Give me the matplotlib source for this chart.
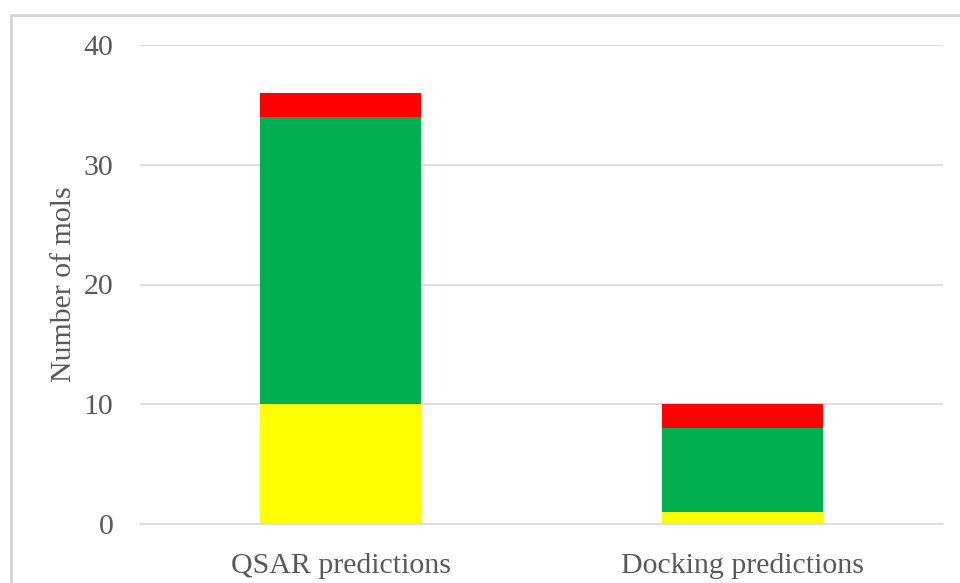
import numpy as np
import matplotlib.pyplot as plt
from matplotlib.patches import Rectangle

categories = ['QSAR predictions', 'Docking predictions']
yellow_vals = [10, 1]
green_vals = [24, 7]
red_vals = [2, 2]

text_col = '#595959'
plt.rcParams['font.family'] = ['Liberation Serif', 'DejaVu Serif']

fig = plt.figure(figsize=(9.6, 5.83), dpi=100)
ax = fig.add_axes([140/960, 1-524/583, (943-140)/960, (524-45)/583])

x = np.arange(len(categories))
w = 0.4
yel = np.array(yellow_vals)
grn = np.array(green_vals)
red = np.array(red_vals)
ax.bar(x, yel, w, color='#FFFF00', zorder=2)
ax.bar(x, grn, w, bottom=yel, color='#00B050', zorder=2)
ax.bar(x, red, w, bottom=yel+grn, color='#FF0000', zorder=2)

ax.set_xlim(-0.5, 1.5)
ax.set_ylim(0, 40)
ax.set_yticks([0, 10, 20, 30, 40])
ax.set_xticks(x)
ax.set_xticklabels(categories)
ax.yaxis.grid(True, color='#d9d9d9', linewidth=1.2, zorder=0)
ax.set_axisbelow(True)
for s in ['top', 'right', 'left']:
    ax.spines[s].set_visible(False)
ax.spines['bottom'].set_color('#d9d9d9')
ax.spines['bottom'].set_linewidth(1.2)
ax.tick_params(axis='both', length=0, labelsize=21.5, labelcolor=text_col)
ax.tick_params(axis='y', pad=19)
ax.tick_params(axis='x', pad=21)
ax.set_ylabel('Number of mols', fontsize=21.5, color=text_col, labelpad=5)

# outer frame, running off the right and bottom edges
fig.patches.append(Rectangle((11/960, -0.1), 1.2, 1-15/583+0.1,
                             transform=fig.transFigure, fill=False,
                             edgecolor='#d4d4d4', linewidth=2))

fig.savefig('out.png', dpi=100)
